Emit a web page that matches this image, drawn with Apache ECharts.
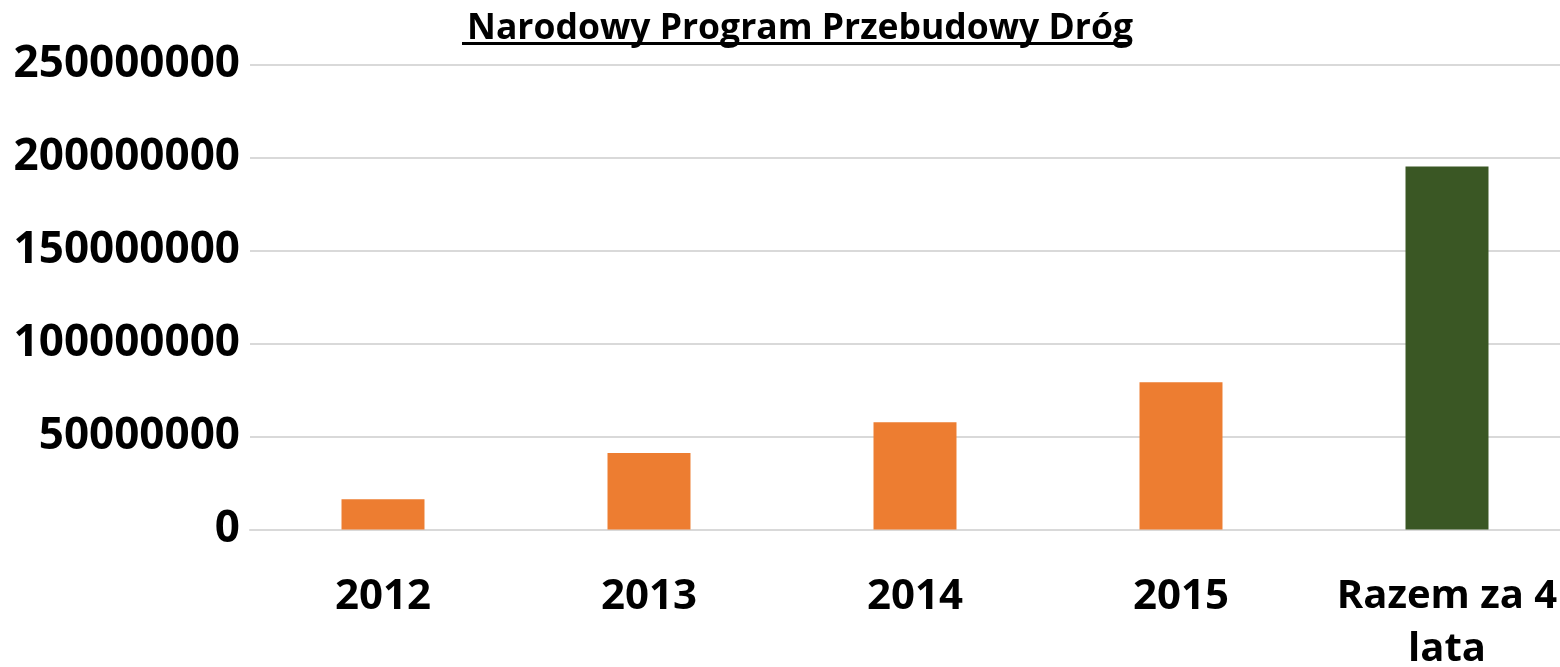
<!DOCTYPE html>
<html>
<head>
<meta charset="utf-8">
<script src="https://cdn.jsdelivr.net/npm/echarts@6/dist/echarts.min.js"></script>
<style>
html,body{margin:0;padding:0;background:#fff;}
#chart{width:1560px;height:667px;}
</style>
</head>
<body>
<div id="chart"></div>
<script>
const titleText = 'Narodowy Program Przebudowy Dróg';
const categories = ['2012', '2013', '2014', '2015', 'Razem za 4\nlata'];
const values = [16200000, 41100000, 57700000, 79200000, 195200000];
const yTicks = [0, 50000000, 100000000, 150000000, 200000000, 250000000];

const ORANGE = '#ED7D31';
const GREEN = '#3A5724';
const FONT = '"Open Sans", sans-serif';

const chart = echarts.init(document.getElementById('chart'), null, {renderer: 'canvas'});
chart.setOption({
  animation: false,
  backgroundColor: '#ffffff',
  title: {
    text: titleText,
    left: 795,
    top: 6,
    textAlign: 'center',
    textStyle: {fontFamily: FONT, fontWeight: 'bold', fontSize: 35.5, color: '#000'}
  },
  graphic: [{
    type: 'rect',
    shape: {x: 462, y: 42, width: 668, height: 3},
    style: {fill: '#000'}
  }],
  grid: {left: 250, width: 1330, top: 64.5, bottom: 137.5, containLabel: false, outerBoundsMode: 'none'},
  xAxis: {
    type: 'category',
    data: categories,
    axisTick: {show: false},
    axisLine: {show: true, lineStyle: {color: '#d9d9d9', width: 2}},
    axisLabel: {
      interval: 0,
      margin: 41,
      fontFamily: FONT, fontWeight: 'bold', fontSize: 42, lineHeight: 53, color: '#000',
      formatter: v => v.indexOf('\n') >= 0 ? v.split('\n').map(s => '{w|' + s + '}').join('\n') : v,
      rich: {
        w: {fontFamily: FONT, fontWeight: 'bold', fontSize: 40, lineHeight: 53, color: '#000'}
      }
    }
  },
  yAxis: {
    type: 'value',
    min: yTicks[0],
    max: yTicks[yTicks.length - 1],
    interval: yTicks[1] - yTicks[0],
    axisLine: {show: false},
    axisTick: {show: false},
    splitLine: {lineStyle: {color: '#d9d9d9', width: 2}},
    axisLabel: {
      margin: 10,
      fontFamily: FONT, fontWeight: 'bold', fontSize: 44, color: '#000',
      formatter: v => String(v)
    }
  },
  series: [{
    type: 'bar',
    barWidth: '31.2%',
    data: values.map((v, i) => ({
      value: v,
      itemStyle: {color: i === values.length - 1 ? GREEN : ORANGE}
    }))
  }]
});
</script>
</body>
</html>
